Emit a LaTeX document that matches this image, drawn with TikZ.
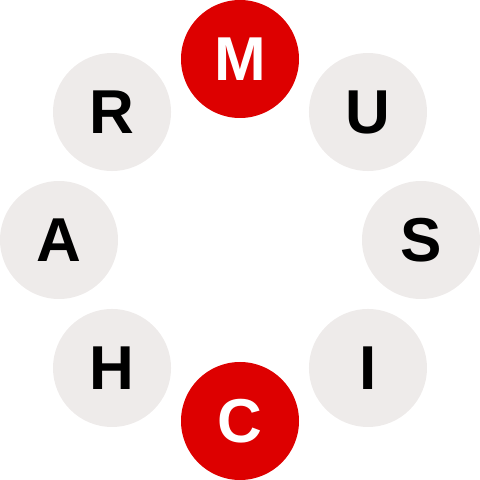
\documentclass[tikz,border=0pt]{standalone}
\usepackage{fontspec}
\setmainfont{Liberation Sans}
\definecolor{redc}{HTML}{DD0000}
\definecolor{grayc}{HTML}{EEEBEA}
\begin{document}
\begin{tikzpicture}[x=1pt,y=1pt,
  letter/.style={circle,minimum size=118pt,inner sep=0pt,fill=grayc,text=black,font=\fontsize{62}{62}\selectfont\bfseries},
  hot/.style={letter,fill=redc,text=white}]
\useasboundingbox (0,0) rectangle (480,480);
\begin{scope}[shift={(240,240)}]
\node[hot] (m) at (90:181) {M};
\node[letter] (u) at (45:181) {U};
\node[letter] (s) at (0:181) {S};
\node[letter] (i) at (-45:181) {I};
\node[hot] (c) at (-90:181) {C};
\node[letter] (h) at (-135:181) {H};
\node[letter] (a) at (180:181) {A};
\node[letter] (r) at (135:181) {R};
\end{scope}
\end{tikzpicture}
\end{document}
